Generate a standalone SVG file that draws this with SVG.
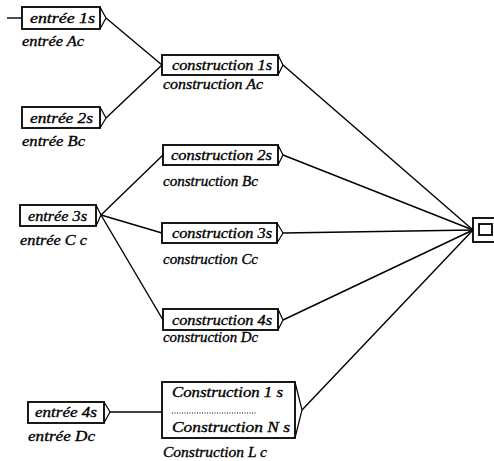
<svg xmlns="http://www.w3.org/2000/svg" width="494" height="461" viewBox="0 0 494 461">
<style>
.box{fill:#fff;stroke:#000;stroke-width:1.8}
.tab{fill:none;stroke:#000;stroke-width:1.2;stroke-linejoin:miter}
.t{font-family:"Liberation Serif","Times New Roman",serif;font-style:italic;font-size:15px;fill:#000;stroke:#000;stroke-width:0.35}
.c{stroke:#000;stroke-width:1.4;fill:none}
</style>
<rect width="494" height="461" fill="#fff"/>
<g id="connectors">
<line class="c" x1="7" y1="18" x2="22" y2="18"/>
<line class="c" x1="106" y1="18" x2="162" y2="65"/>
<line class="c" x1="106" y1="118" x2="162" y2="65"/>
<line class="c" x1="101" y1="215" x2="163" y2="155"/>
<line class="c" x1="101" y1="215" x2="162" y2="233"/>
<line class="c" x1="101" y1="215" x2="163" y2="320"/>
<line class="c" x1="110" y1="412" x2="162" y2="412"/>
<line class="c" x1="283" y1="65" x2="473" y2="230"/>
<line class="c" x1="283" y1="155" x2="473" y2="230"/>
<line class="c" x1="283" y1="233" x2="473" y2="230"/>
<line class="c" x1="283" y1="320" x2="473" y2="230"/>
<line class="c" x1="302" y1="410" x2="473" y2="230"/>
</g>
<g id="entree1">
<rect class="box" x="22" y="7" width="78" height="22"/>
<polyline class="tab" points="100,7 106,18 100,29"/>
<text class="t" x="30" y="23" textLength="65" lengthAdjust="spacingAndGlyphs">entrée 1s</text>
<text class="t" x="22" y="46" textLength="62" lengthAdjust="spacingAndGlyphs">entrée Ac</text>
</g>
<g id="entree2">
<rect class="box" x="22" y="107" width="78" height="21"/>
<polyline class="tab" points="100,107 106,118 100,128"/>
<text class="t" x="30" y="123" textLength="63" lengthAdjust="spacingAndGlyphs">entrée 2s</text>
<text class="t" x="22" y="146" textLength="63" lengthAdjust="spacingAndGlyphs">entrée Bc</text>
</g>
<g id="entree3">
<rect class="box" x="20" y="205" width="76" height="21"/>
<polyline class="tab" points="96,205 101,215 96,226"/>
<text class="t" x="28" y="221" textLength="59" lengthAdjust="spacingAndGlyphs">entrée 3s</text>
<text class="t" x="20" y="245" textLength="67" lengthAdjust="spacingAndGlyphs">entrée C c</text>
</g>
<g id="entree4">
<rect class="box" x="28" y="402" width="76" height="21"/>
<polyline class="tab" points="104,402 110,412 104,423"/>
<text class="t" x="35" y="417" textLength="62" lengthAdjust="spacingAndGlyphs">entrée 4s</text>
<text class="t" x="28" y="441" textLength="67" lengthAdjust="spacingAndGlyphs">entrée Dc</text>
</g>
<g id="construction1">
<rect class="box" x="162" y="55" width="116" height="20"/>
<polyline class="tab" points="278,55 283,65 278,75"/>
<text class="t" x="172" y="70" textLength="100" lengthAdjust="spacingAndGlyphs">construction 1s</text>
<text class="t" x="163" y="89" textLength="100" lengthAdjust="spacingAndGlyphs">construction Ac</text>
</g>
<g id="construction2">
<rect class="box" x="163" y="145" width="115" height="20"/>
<polyline class="tab" points="278,145 283,155 278,165"/>
<text class="t" x="171" y="160" textLength="101" lengthAdjust="spacingAndGlyphs">construction 2s</text>
<text class="t" x="163" y="186" textLength="95" lengthAdjust="spacingAndGlyphs">construction Bc</text>
</g>
<g id="construction3">
<rect class="box" x="162" y="223" width="115" height="20"/>
<polyline class="tab" points="277,223 283,233 277,243"/>
<text class="t" x="172" y="238" textLength="100" lengthAdjust="spacingAndGlyphs">construction 3s</text>
<text class="t" x="163" y="264" textLength="95" lengthAdjust="spacingAndGlyphs">construction Cc</text>
</g>
<g id="construction4">
<rect class="box" x="163" y="309" width="115" height="21"/>
<polyline class="tab" points="278,309 283,320 278,330"/>
<text class="t" x="172" y="325" textLength="100" lengthAdjust="spacingAndGlyphs">construction 4s</text>
<text class="t" x="163" y="342" textLength="95" lengthAdjust="spacingAndGlyphs">construction Dc</text>
</g>
<g id="constructionL">
<rect class="box" x="162" y="382" width="133" height="56"/>
<polyline class="tab" points="295,382 302,410 295,438"/>
<text class="t" x="172" y="397" textLength="111" lengthAdjust="spacingAndGlyphs">Construction 1 s</text>
<line x1="172" y1="413" x2="257" y2="413" stroke="#000" stroke-width="1" stroke-dasharray="1,1.5"/>
<text class="t" x="172" y="432" textLength="118" lengthAdjust="spacingAndGlyphs">Construction N s</text>
<text class="t" x="163" y="457" textLength="104" lengthAdjust="spacingAndGlyphs">Construction L c</text>
</g>
<g id="sortie">
<rect class="box" x="473" y="218" width="24" height="24"/>
<rect class="box" x="479" y="224" width="13" height="11"/>
</g>
</svg>
